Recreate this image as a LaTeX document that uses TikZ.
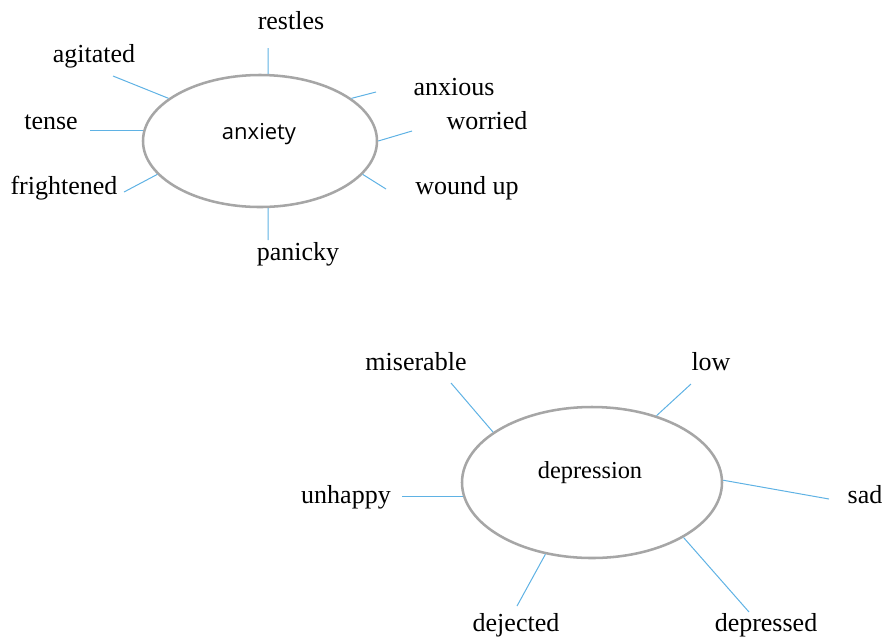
\documentclass[tikz,border=0pt]{standalone}
\usepackage{fontspec}
\setmainfont{Liberation Serif}
\newfontfamily\uisans{Open Sans}
\usetikzlibrary{shapes.geometric}
\definecolor{ringgray}{RGB}{166,166,166}
\definecolor{spoke}{RGB}{95,178,228}
\begin{document}
\begin{tikzpicture}[x=0.75pt,y=-0.75pt,
  ring/.style={ellipse,draw=ringgray,line width=1.9pt,inner sep=0pt,fill=white},
  word/.style={anchor=base,inner sep=0pt,font=\fontsize{19.5}{23}\selectfont},
  spokeline/.style={draw=spoke,line width=0.75pt}]
\useasboundingbox (0,0) rectangle (885,637);
% anxiety cluster
\node[ring,minimum width=175.5pt,minimum height=99pt] (anx) at (260,141) {};
\node[inner sep=0pt,font=\uisans\fontsize{16.5}{20}\selectfont] (anxt) at (259,134) {anxiety};
\node[word] (restles) at (291,29) {restles};
\node[word] (agitated) at (94,62) {agitated};
\node[word] (tense) at (51,129) {tense};
\node[word] (frightened) at (64,194) {frightened};
\node[word] (panicky) at (298,260) {panicky};
\node[word] (anxious) at (454,95) {anxious};
\node[word] (worried) at (487,129) {worried};
\node[word] (woundup) at (467,194) {wound up};
\coordinate (cRest) at (268,48);
\coordinate (cAgit) at (113,76);
\coordinate (cTense) at (90,131);
\coordinate (cFright) at (124,192);
\coordinate (cPanic) at (268,240);
\coordinate (cAnx) at (376,92);
\coordinate (cWorr) at (412,131);
\coordinate (cWound) at (386,189);
\draw[spokeline] (anx.83) -- (cRest);
\draw[spokeline] (anx.155.6) -- (cAgit);
\draw[spokeline] (anx.175) -- (anx.175 -| cTense);
\draw[spokeline] (anx.198) -- (cFright);
\draw[spokeline] (anx.277) -- (cPanic);
\draw[spokeline] (anx.25.6) -- (cAnx);
\draw[spokeline] (anx.0.5) -- (cWorr);
\draw[spokeline] (anx.342) -- (cWound);
% depression cluster
\node[ring,minimum width=195pt,minimum height=113.25pt] (dep) at (592,482.5) {};
\node[inner sep=0pt,font=\fontsize{18.3}{22}\selectfont] (dept) at (590,473) {depression};
\node[word] (miserable) at (416,370) {miserable};
\node[word] (low) at (711,370) {low};
\node[word] (unhappy) at (346,503) {unhappy};
\node[word] (sad) at (865,503) {sad};
\node[word] (dejected) at (516,631) {dejected};
\node[word] (depressed) at (766,631) {depressed};
\coordinate (cMis) at (451,383);
\coordinate (cLow) at (691,384);
\coordinate (cUnh) at (402,495);
\coordinate (cSad) at (829,499);
\coordinate (cDej) at (517,606);
\coordinate (cDepr) at (749,612);
\draw[spokeline] (dep.153.2) -- (cMis);
\draw[spokeline] (dep.46.5) -- (cLow);
\draw[spokeline] (dep.186) -- (dep.186 -| cUnh);
\draw[spokeline] (dep.1.5) -- (cSad);
\draw[spokeline] (dep.237) -- (cDej);
\draw[spokeline] (dep.329) -- (cDepr);
\end{tikzpicture}
\end{document}
